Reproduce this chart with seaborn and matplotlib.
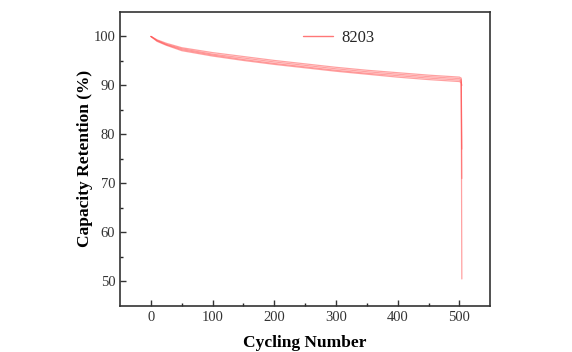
import matplotlib
matplotlib.use("Agg")
import matplotlib.pyplot as plt
import seaborn as sns
import pandas as pd

cycles = [0, 10, 25, 50, 100, 150, 200, 250, 300, 350, 400, 450, 500, 503, 504]
cell_a = [100.0, 99.3, 98.6, 97.7, 96.7, 95.9, 95.1, 94.4, 93.7, 93.1, 92.6, 92.1, 91.7, 91.5, 77.0]
cell_b = [100.0, 99.2, 98.4, 97.5, 96.4, 95.6, 94.8, 94.1, 93.4, 92.8, 92.3, 91.8, 91.4, 91.2, 50.5]
cell_c = [100.0, 99.1, 98.3, 97.3, 96.2, 95.3, 94.5, 93.8, 93.1, 92.5, 92.0, 91.5, 91.1, 90.9, 71.0]
cell_d = [100.0, 99.0, 98.2, 97.1, 96.0, 95.1, 94.3, 93.6, 92.9, 92.3, 91.7, 91.2, 90.8, 90.6, 90.0]
legend_label = "8203"

sns.set_theme(style="white")
plt.rcParams["font.family"] = ["Liberation Serif", "DejaVu Serif"]

frames = []
for name, vals in [("a", cell_a), ("b", cell_b), ("c", cell_c), ("d", cell_d)]:
    frames.append(pd.DataFrame({"cycle": cycles, "ret": vals, "cell": name}))
df = pd.concat(frames, ignore_index=True)

fig = plt.figure(figsize=(5.72, 3.52), dpi=100)
ax = fig.add_axes([0.21, 0.131, 0.647, 0.835])

sns.lineplot(data=df, x="cycle", y="ret", units="cell", estimator=None,
             color="#ff5555", alpha=0.55, lw=0.9, ax=ax, sort=False, legend=False)

ax.plot([], [], color="#ff7777", lw=1.0, label=legend_label)
leg = ax.legend(loc="upper center", bbox_to_anchor=(0.59, 0.99), frameon=False,
                fontsize=12, handlelength=1.8, handletextpad=0.5)

ax.set_xlim(-50, 550)
ax.set_ylim(45, 105)
ax.set_xticks([0, 100, 200, 300, 400, 500])
ax.set_xticks([50, 150, 250, 350, 450], minor=True)
ax.set_yticks([50, 60, 70, 80, 90, 100])
ax.set_yticks([55, 65, 75, 85, 95], minor=True)
ax.tick_params(axis="both", which="major", direction="in", length=4, width=1,
               labelsize=10.5, colors="#333333", bottom=True, left=True)
ax.tick_params(axis="both", which="minor", direction="in", length=2, width=1,
               bottom=True, left=True)
for s in ax.spines.values():
    s.set_color("#333333")
    s.set_linewidth(1.2)
ax.set_xlabel("Cycling Number", fontsize=12.5, fontweight="bold", color="black", labelpad=8)
ax.set_ylabel("Capacity Retention (%)", fontsize=12.5, fontweight="bold", color="black")
ax.yaxis.set_label_coords(-0.072, 0.5)

fig.savefig("out.png", dpi=100)
